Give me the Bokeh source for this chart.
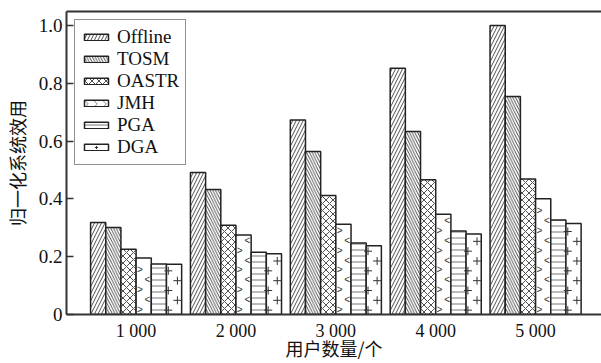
from bokeh.plotting import figure
from bokeh.models import ColumnDataSource, FixedTicker, LinearAxis, Range1d, Legend, LegendItem
from bokeh.core.properties import value
from bokeh.transform import dodge
from bokeh.embed import file_html
from bokeh.resources import INLINE

groups = [1, 2, 3, 4, 5]
group_labels = ["1 000", "2 000", "3 000", "4 000", "5 000"]
series_names = ["Offline", "TOSM", "OASTR", "JMH", "PGA", "DGA"]
offline = [0.318, 0.491, 0.673, 0.852, 1.0]
tosm = [0.301, 0.432, 0.564, 0.633, 0.754]
oastr = [0.226, 0.309, 0.412, 0.466, 0.469]
jmh = [0.195, 0.275, 0.312, 0.347, 0.400]
pga = [0.175, 0.215, 0.247, 0.289, 0.327]
dga = [0.174, 0.210, 0.238, 0.278, 0.315]
y_ticks = [0, 0.2, 0.4, 0.6, 0.8, 1.0]
y_tick_labels = ["0", "0.2", "0.4", "0.6", "0.8", "1.0"]

series_values = [offline, tosm, oastr, jmh, pga, dga]
hatches = [
    dict(hatch_pattern="/", hatch_scale=7, hatch_weight=0.8, hatch_color="#222"),
    dict(hatch_pattern="\\", hatch_scale=5.5, hatch_weight=0.8, hatch_color="#222"),
    dict(hatch_pattern="x", hatch_scale=7, hatch_weight=0.8, hatch_color="#222"),
    dict(),
    dict(hatch_pattern="-", hatch_scale=6, hatch_weight=1.0, hatch_color="#777"),
    dict(),
]

data = {"g": groups}
for name, vals in zip(series_names, series_values):
    data[name] = vals
source = ColumnDataSource(data)

p = figure(width=601, height=363, output_backend="svg", toolbar_location=None,
           x_range=Range1d(0.303, 5.66), y_range=Range1d(0, 1.048),
           min_border_left=63, min_border_right=0, min_border_top=11, min_border_bottom=47)
p.outline_line_color = None
p.xgrid.visible = False
p.ygrid.visible = False
p.background_fill_color = "white"
p.border_fill_color = "white"

bw = 0.152
bars = []
for i, (name, h) in enumerate(zip(series_names, hatches)):
    r = p.vbar(x=dodge("g", (i - 2.5) * bw, range=p.x_range), top=name, width=bw,
               source=source, fill_color="white", line_color="#222", line_width=1.5, **h)
    bars.append(r)

# decorative fill marks for JMH (chevrons) and DGA (plus signs), derived from the bar heights
step = 0.034
jx, jy, jt, dx, dy = [], [], [], [], []
for g, vj, vd in zip(groups, jmh, dga):
    k = 0
    while 0.018 + k * step < vj - 0.012:
        left = k % 2 == 0
        jx.append(g + 0.5 * bw + (-0.25 if left else 0.25) * bw)
        jy.append(0.018 + k * step)
        jt.append(">" if left else "<")
        k += 1
    k = 0
    while 0.015 + k * step < vd - 0.01:
        left = k % 2 == 0
        dx.append(g + 2.5 * bw + (-0.38 if left else 0.22) * bw)
        dy.append(0.015 + k * step)
        k += 1

jmh_marks = p.text(x=jx, y=jy, text=jt, text_font=value("Liberation Sans"), text_font_size=value("10px"),
                   text_align="center", text_baseline="middle", text_color="#333")
dga_marks = p.scatter(x=dx, y=dy, marker="cross", size=8, line_color="#333", line_width=1)

# hidden renderers used only to draw legend swatches
jmh_leg = p.vbar(x=dodge("g", 0.5 * bw, range=p.x_range), top="JMH", width=bw, source=source,
                 fill_color="white", line_color="#222", line_width=1.5,
                 hatch_pattern=">", hatch_scale=9, hatch_weight=0.7, hatch_color="#555", visible=False)
dga_leg = p.scatter(x=dx, y=dy, marker="cross", size=8, line_color="#333", line_width=1, visible=False)

items = []
for name, r in zip(series_names, bars):
    if name == "JMH":
        items.append(LegendItem(label=name, renderers=[jmh_leg]))
    elif name == "DGA":
        items.append(LegendItem(label=name, renderers=[r, dga_leg]))
    else:
        items.append(LegendItem(label=name, renderers=[r]))

legend = Legend(items=items, location="top_left", margin=8,
                label_text_font="Liberation Serif", label_text_font_size="19px",
                label_text_color="#111",
                glyph_width=30, glyph_height=8, label_height=20, spacing=0,
                padding=6, border_line_color="#222", border_line_width=1.5,
                label_standoff=6)
p.add_layout(legend, "center")

xa = p.xaxis[0]
xa.ticker = FixedTicker(ticks=groups)
xa.major_label_overrides = {g: lab for g, lab in zip(groups, group_labels)}
xa.major_tick_line_color = None
xa.major_tick_in = 0
xa.major_tick_out = 0
xa.minor_tick_line_color = None
xa.minor_tick_in = 0
xa.minor_tick_out = 0
xa.axis_line_width = 2
xa.axis_line_color = "#333"
xa.major_label_text_font = "Liberation Serif"
xa.major_label_text_font_size = "18px"
xa.major_label_text_color = "#111"
xa.major_label_standoff = 6
xa.axis_label = "用户数量/个"
xa.axis_label_text_font = "Noto Sans CJK SC"
xa.axis_label_text_font_size = "18px"
xa.axis_label_text_font_style = "normal"
xa.axis_label_text_color = "#111"
xa.axis_label_standoff = -9

ya = p.yaxis[0]
ya.ticker = FixedTicker(ticks=y_ticks)
ya.major_label_overrides = {t: lab for t, lab in zip(y_ticks, y_tick_labels)}
ya.major_tick_in = 7
ya.major_tick_out = 0
ya.major_tick_line_width = 1.5
ya.major_tick_line_color = "#333"
ya.minor_tick_line_color = None
ya.axis_line_width = 2
ya.axis_line_color = "#333"
ya.major_label_text_font = "Liberation Serif"
ya.major_label_text_font_size = "19px"
ya.major_label_text_color = "#111"
ya.major_label_standoff = 4
ya.axis_label = "归一化系统效用"
ya.axis_label_text_font = "Noto Sans CJK SC"
ya.axis_label_text_font_size = "18px"
ya.axis_label_text_font_style = "normal"
ya.axis_label_text_color = "#111"
ya.axis_label_standoff = 6

top_axis = LinearAxis(ticker=FixedTicker(ticks=[]), axis_line_width=2, axis_line_color="#333",
                      major_tick_line_color=None, minor_tick_line_color=None,
                      major_tick_in=0, major_tick_out=0,
                      major_label_text_font_size="0px")
p.add_layout(top_axis, "above")

open("out.html", "w").write(file_html(p, INLINE))
